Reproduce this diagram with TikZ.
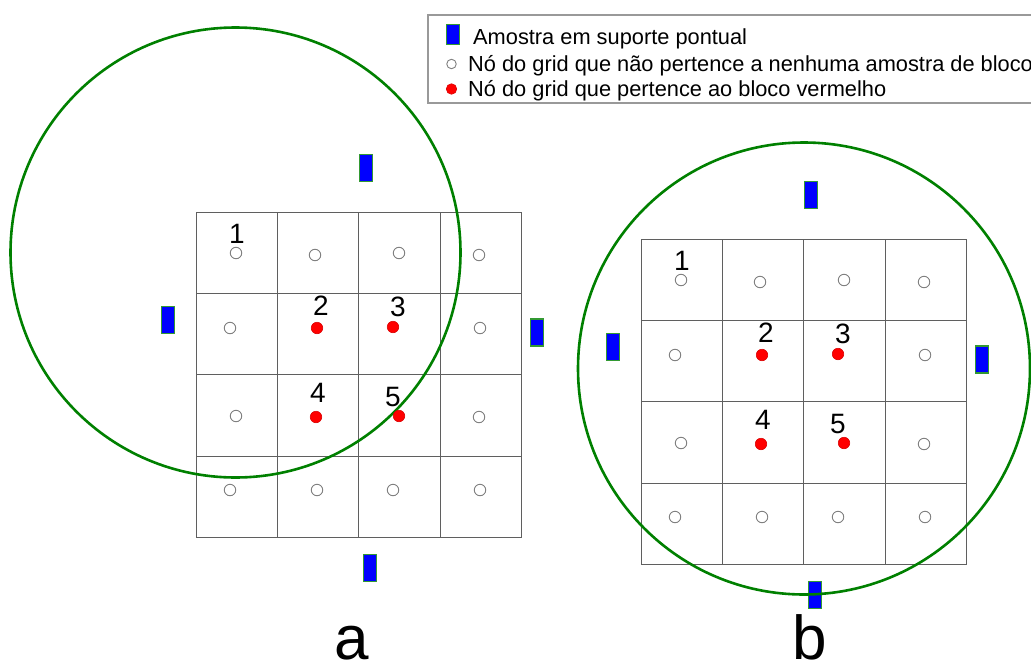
\documentclass[tikz,border=0pt]{standalone}
\usepackage{fontspec}
\setmainfont{Liberation Sans}
\usetikzlibrary{positioning}
\definecolor{ringgreen}{RGB}{0,128,0}
\definecolor{gridgray}{RGB}{95,95,95}
\tikzset{
  gridline/.style={draw=gridgray, line width=0.9pt},
  ring/.style={draw=ringgreen, line width=2.6pt},
  sample/.style={rectangle, draw=ringgreen!80!white, fill=blue, line width=1.3pt, minimum width=13pt, minimum height=27pt, inner sep=0pt},
  freenode/.style={circle, draw=gray, fill=white, line width=0.9pt, minimum size=11.5pt, inner sep=0pt},
  blocknode/.style={circle, draw=red!85!black, fill=red, line width=0.6pt, minimum size=11.5pt, inner sep=0pt},
  numlabel/.style={font=\fontsize{28}{28}\selectfont, anchor=base, inner sep=0pt},
  panellabel/.style={font=\fontsize{62}{62}\selectfont, anchor=base, inner sep=0pt},
  legendtext/.style={font=\fontsize{21.8}{22}\selectfont, anchor=base west, inner sep=0pt},
  legendframe/.style={draw=gray!80, line width=1.3pt},
}

\begin{document}
\begin{tikzpicture}[x=1pt, y=-1pt]
  \useasboundingbox (0,0) rectangle (1031,664);

  % legend
  \draw[legendframe] (428,15) rectangle (1045,103);
  \node[sample, minimum width=13pt, minimum height=20pt] (leg-s) at (453,34.5) {};
  \node[legendtext] (leg-t1) at (473,44) {Amostra em suporte pontual};
  \node[freenode, minimum size=9.5pt] (leg-f) at (451.5,64) {};
  \node[legendtext] (leg-t2) at (468,71) {Nó do grid que não pertence a nenhuma amostra de bloco};
  \node[blocknode, minimum size=10.5pt] (leg-b) at (451.5,89) {};
  \node[legendtext] (leg-t3) at (468,96) {Nó do grid que pertence ao bloco vermelho};

  % two panels: grid origin, ring centre and radius
  \foreach \p/\dx/\dy/\rx/\ry/\rr in {a/196/212/39.5/40.5/225, b/641/239/163/129.5/226} {
    \begin{scope}[shift={(\dx,\dy)}]
      % 4x4 block grid
      \foreach \i in {0,...,4} {
        \draw[gridline] (\i*81.4,0) -- (\i*81.4,325.6);
        \draw[gridline] (0,\i*81.4) -- (325.6,\i*81.4);
      }
      % point samples
      \node[sample] (\p-s1) at (170,-44) {};
      \node[sample] (\p-s2) at (-28,108) {};
      \node[sample] (\p-s3) at (341,120.5) {};
      \node[sample] (\p-s4) at (174,356) {};
      % search neighbourhood
      \draw[ring] (\rx,\ry) circle[radius=\rr];
      % grid nodes
      \foreach \n/\x/\y/\s in {1/40/41/freenode, 2/119/43/freenode, 3/203/41/freenode, 4/283/43/freenode,
                               5/34/116/freenode, 6/121/116/blocknode, 7/197/115/blocknode, 8/284/116/freenode,
                               9/40/204/freenode, 10/120/205/blocknode, 11/203/204/blocknode, 12/283/205/freenode,
                               13/34/278/freenode, 14/121/278/freenode, 15/197/278/freenode, 16/284/278/freenode} {
        \node[\s] (\p-n\n) at (\x,\y) {};
      }
      % node numbers
      \foreach \n/\x/\y in {1/41/31, 2/125/103, 3/202/104, 4/122/190, 5/197/194} {
        \node[numlabel] (\p-l\n) at (\x,\y) {\n};
      }
    \end{scope}
  }

  % panel letters
  \node[panellabel] (lab-a) at (352,659) {a};
  \node[panellabel] (lab-b) at (810,659) {b};
\end{tikzpicture}
\end{document}
